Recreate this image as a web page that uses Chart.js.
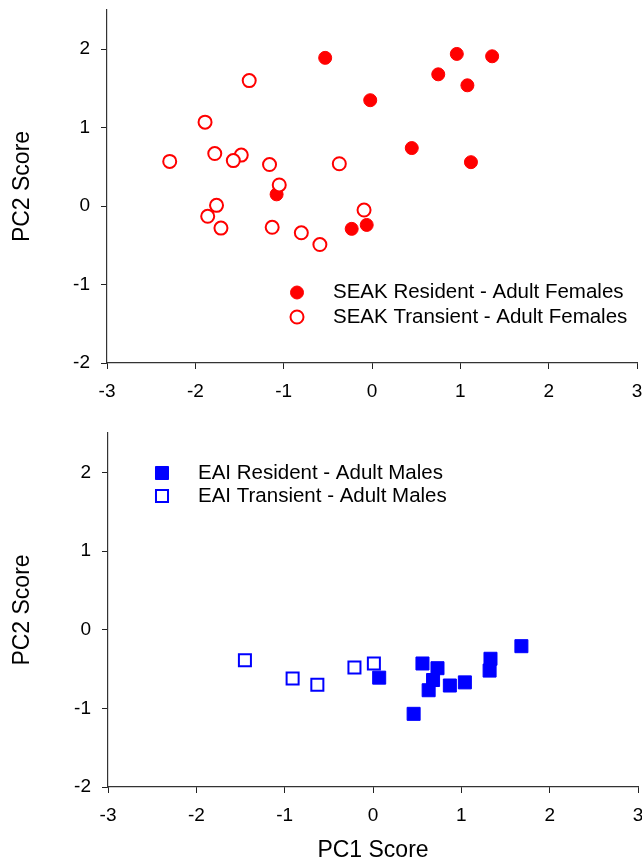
<!DOCTYPE html>
<html lang="en">
<head>
  <meta charset="UTF-8">
  <title>PC1 / PC2 Scores</title>
  <script src="https://cdn.jsdelivr.net/npm/chart.js"></script>
  <style>
    body { margin: 0; background: #fff; }
    canvas { position: absolute; left: 0; }
    #topChart { top: 0; }
    #bottomChart { top: 420px; }
  </style>
</head>
<body>
  <canvas id="topChart" width="642" height="420"></canvas>
  <canvas id="bottomChart" width="642" height="442"></canvas>

  <script>
    // Values (PC1 = x, PC2 = y)
    const seakResidentPC1 = [-0.53, 0.96, 1.36, 0.75, 1.08, -0.02, 0.45, 1.12, -1.08, -0.23, -0.06];
    const seakResidentPC2 = [1.89, 1.94, 1.91, 1.68, 1.54, 1.35, 0.74, 0.56, 0.15, -0.29, -0.24];
    const seakTransientPC1 = [-1.39, -1.89, -1.78, -1.48, -1.57, -2.29, -1.16, -0.37, -1.05, -0.09, -1.76, -1.86, -1.71, -1.13, -0.80, -0.59];
    const seakTransientPC2 = [1.60, 1.07, 0.67, 0.65, 0.58, 0.57, 0.53, 0.54, 0.27, -0.05, 0.01, -0.13, -0.28, -0.27, -0.34, -0.49];
    const eaiResidentPC1 = [0.07, 0.56, 0.73, 0.68, 0.63, 0.87, 1.04, 1.33, 1.32, 1.68, 0.46];
    const eaiResidentPC2 = [-0.61, -0.43, -0.49, -0.64, -0.77, -0.71, -0.67, -0.37, -0.52, -0.21, -1.07];
    const eaiTransientPC1 = [-1.45, -0.91, -0.63, -0.21, 0.01];
    const eaiTransientPC2 = [-0.39, -0.62, -0.70, -0.48, -0.43];
    const xTicks = [-3, -2, -1, 0, 1, 2, 3];
    const yTicks = [-2, -1, 0, 1, 2];

    const FONT = '"Liberation Sans", Arial, sans-serif';

    function toPoints(xs, ys) {
      return xs.map((x, i) => ({ x: x, y: ys[i] }));
    }

    function drawMarker(ctx, ds, x, y) {
      const r = ds.pointRadius;
      ctx.beginPath();
      if (ds.pointStyle === 'rect') {
        const h = r * Math.SQRT1_2;
        ctx.rect(x - h, y - h, 2 * h, 2 * h);
      } else {
        ctx.arc(x, y, r, 0, Math.PI * 2);
      }
      ctx.fillStyle = ds.pointBackgroundColor;
      ctx.fill();
      if (ds.pointBorderWidth > 0) {
        ctx.lineWidth = ds.pointBorderWidth;
        ctx.strokeStyle = ds.pointBorderColor;
        ctx.stroke();
      }
    }

    // legend sits inside the plot area, so draw it by hand
    const insideLegend = {
      id: 'insideLegend',
      afterDraw(chart, args, opts) {
        const ctx = chart.ctx;
        ctx.save();
        ctx.font = opts.fontSize + 'px ' + FONT;
        ctx.textBaseline = 'middle';
        chart.data.datasets.forEach((ds, i) => {
          const y = opts.y + i * opts.gap;
          drawMarker(ctx, ds, opts.x, y);
          ctx.fillStyle = '#000';
          ctx.fillText(ds.label, opts.textX, y);
        });
        ctx.restore();
      }
    };

    function makeScales(yWidth, xHeight, showXTitle) {
      return {
        x: {
          type: 'linear',
          min: -3,
          max: 3,
          afterBuildTicks: s => { s.ticks = xTicks.map(v => ({ value: v })); },
          afterFit: s => { s.height = xHeight; s.paddingLeft = 0; s.paddingRight = 0; },
          grid: { drawOnChartArea: false, tickLength: 6, tickColor: '#222', tickWidth: 1 },
          border: { color: '#333', width: 1.2 },
          ticks: { color: '#000', font: { family: FONT, size: 19 }, padding: 11, maxRotation: 0 },
          title: {
            display: showXTitle,
            text: 'PC1 Score',
            color: '#000',
            font: { family: FONT, size: 23, lineHeight: 1 },
            padding: { top: 0, bottom: 0 }
          }
        },
        y: {
          type: 'linear',
          min: -2,
          max: 2.5,
          afterBuildTicks: s => { s.ticks = yTicks.map(v => ({ value: v })); },
          afterFit: s => { s.width = yWidth; s.paddingTop = 0; s.paddingBottom = 0; },
          grid: { drawOnChartArea: false, tickLength: 6, tickColor: '#222', tickWidth: 1 },
          border: { color: '#333', width: 1.2 },
          ticks: { color: '#000', font: { family: FONT, size: 19 }, padding: 11 },
          title: {
            display: true,
            text: 'PC2 Score',
            color: '#000',
            font: { family: FONT, size: 23, lineHeight: 1 },
            padding: { top: 11, bottom: 0 }
          }
        }
      };
    }

    // Top: SEAK adult females
    new Chart(document.getElementById('topChart'), {
      type: 'scatter',
      data: {
        datasets: [
          {
            label: 'SEAK Resident - Adult Females',
            data: toPoints(seakResidentPC1, seakResidentPC2),
            pointStyle: 'circle',
            pointRadius: 6.5,
            pointBackgroundColor: '#ff0000',
            pointBorderColor: '#ff0000',
            pointBorderWidth: 1,
            order: 1
          },
          {
            label: 'SEAK Transient - Adult Females',
            data: toPoints(seakTransientPC1, seakTransientPC2),
            pointStyle: 'circle',
            pointRadius: 6.5,
            pointBackgroundColor: '#ffffff',
            pointBorderColor: '#ff0000',
            pointBorderWidth: 2,
            order: 0
          }
        ]
      },
      options: {
        responsive: false,
        animation: false,
        events: [],
        layout: { autoPadding: false, padding: { top: 10, right: 5, bottom: 0, left: 0 } },
        scales: makeScales(107, 57, false),
        plugins: {
          legend: { display: false },
          tooltip: { enabled: false },
          insideLegend: { x: 297, y: 292.5, gap: 24.5, textX: 333, fontSize: 20.5 }
        }
      },
      plugins: [insideLegend]
    });

    // Bottom: EAI adult males
    new Chart(document.getElementById('bottomChart'), {
      type: 'scatter',
      data: {
        datasets: [
          {
            label: 'EAI Resident - Adult Males',
            data: toPoints(eaiResidentPC1, eaiResidentPC2),
            pointStyle: 'rect',
            pointRadius: 9.2,
            pointBackgroundColor: '#0000ff',
            pointBorderColor: '#0000ff',
            pointBorderWidth: 1,
            order: 0
          },
          {
            label: 'EAI Transient - Adult Males',
            data: toPoints(eaiTransientPC1, eaiTransientPC2),
            pointStyle: 'rect',
            pointRadius: 8.5,
            pointBackgroundColor: '#ffffff',
            pointBorderColor: '#0000ff',
            pointBorderWidth: 2,
            order: 1
          }
        ]
      },
      options: {
        responsive: false,
        animation: false,
        events: [],
        layout: { autoPadding: false, padding: { top: 13, right: 4, bottom: 0, left: 0 } },
        scales: makeScales(108, 75, true),
        plugins: {
          legend: { display: false },
          tooltip: { enabled: false },
          insideLegend: { x: 162, y: 53, gap: 23, textX: 198, fontSize: 20.5 }
        }
      },
      plugins: [insideLegend]
    });
  </script>
</body>
</html>
